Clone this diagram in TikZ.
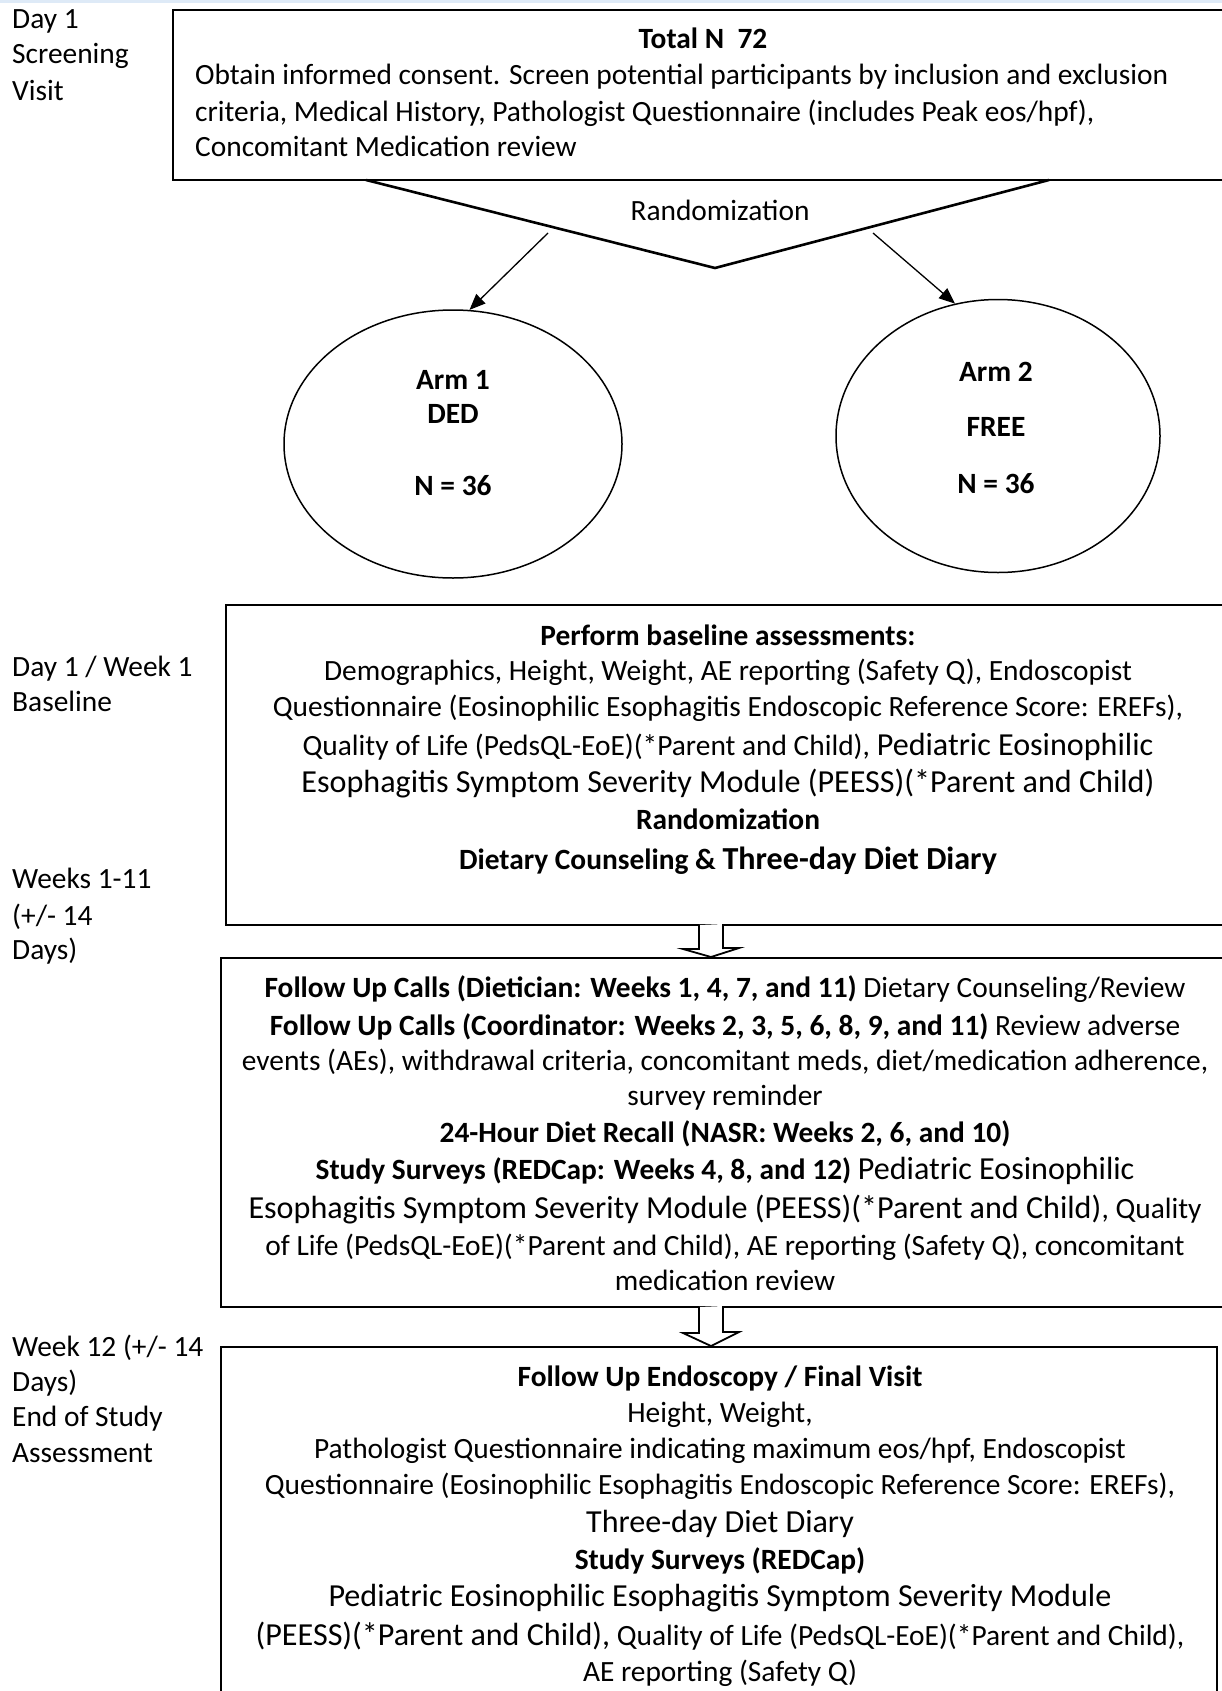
\documentclass[tikz,border=0pt]{standalone}
\usepackage{fontspec}
\setmainfont{Carlito}
\usetikzlibrary{shapes.geometric,arrows.meta}
\newcommand{\nsz}{\fontsize{29.4}{36}\selectfont}
\newcommand{\lsz}{\fontsize{32.1}{39}\selectfont}
\definecolor{topband}{RGB}{222,234,247}
\tikzset{
  boxst/.style={draw, line width=2pt, fill=white, rectangle, inner sep=0pt},
  ellst/.style={draw, line width=1.5pt, ellipse, inner sep=0pt},
  ln/.style={inner sep=0pt, anchor=base, font=\nsz},
  lnl/.style={inner sep=0pt, anchor=base west, font=\nsz},
  thinarr/.style={line width=1.3pt, -{Triangle[length=16pt,width=13pt]}},
  hollow/.style={draw, line width=1.8pt, fill=white, line join=miter},
}
\begin{document}
\begin{tikzpicture}[x=1pt,y=-1pt]
\useasboundingbox (0,0) rectangle (1222,1691);
\clip (0,0) rectangle (1222,1691);
\fill[white] (0,0) rectangle (1222,1691);
\fill[topband] (0,0) rectangle (1222,3);
% boxes
\node[boxst, minimum width=1067pt, minimum height=170pt] (b1) at (706.5,95) {};
\node[boxst, minimum width=1014pt, minimum height=320pt] (b2) at (733,765) {};
\node[boxst, minimum width=1019pt, minimum height=349pt] (b3) at (730.5,1132.5) {};
\node[boxst, minimum width=996pt, minimum height=373pt] (b4) at (719,1533.5) {};
% randomization wedge
\draw[line width=2.6pt, line join=miter] (366,180) -- (715,268) -- (1049,180);
\node[ln] (rand) at (720,220) {Randomization};
% ellipses
\node[ellst, minimum width=338pt, minimum height=268pt] (e1) at (453,444) {};
\node[ellst, minimum width=324pt, minimum height=273pt] (e2) at (998,436) {};
\coordinate (a1s) at (548,233);
\coordinate (a2s) at (873,233);
\draw[thinarr] (a1s) -- (e1.83);
\draw[thinarr] (a2s) -- (e2.108);
\node[ln, font=\nsz\bfseries] (e1a) at (453,389) {Arm 1};
\node[ln, font=\nsz\bfseries] (e1b) at (453,423) {DED};
\node[ln, font=\nsz\bfseries] (e1c) at (453,495) {N = 36};
\node[ln, font=\nsz\bfseries] (e2a) at (996,381) {Arm 2};
\node[ln, font=\nsz\bfseries] (e2b) at (996,436) {FREE};
\node[ln, font=\nsz\bfseries] (e2c) at (996,493) {N = 36};
% hollow arrows
\coordinate (h1) at (711,925);
\coordinate (h2) at (711,1307);
\draw[hollow] (h1) ++(-12,0) -- ++(0,24) -- ++(-16,0) -- (b3.north -| h1) -- ++(28,-9) -- ++(-16,0) -- ++(0,-24);
\draw[hollow] (h2) ++(-12,0) -- ++(0,26) -- ++(-16,0) -- (b4.north -| h2) -- ++(28,-14) -- ++(-16,0) -- ++(0,-26);
% left labels
\node[lnl] (l1a) at (12,29) {Day 1};
\node[lnl] (l1b) at (12,64) {Screening};
\node[lnl] (l1c) at (12,101) {Visit};
\node[lnl] (l2a) at (12,676) {Day 1 / Week 1};
\node[lnl] (l2b) at (12,711) {Baseline};
\node[lnl] (l3a) at (12,888) {Weeks 1-11};
\node[lnl] (l3b) at (12,925) {(+/- 14};
\node[lnl] (l3c) at (12,959) {Days)};
\node[lnl] (l4a) at (12,1356) {Week 12 (+/- 14};
\node[lnl] (l4b) at (12,1391) {Days)};
\node[lnl] (l4c) at (12,1426) {End of Study};
\node[lnl] (l4d) at (12,1462) {Assessment};
% box 1 text
\node[ln, font=\nsz\bfseries] (t1a) at (703,49) {Total N\ \ 72};
\node[lnl] (t1b) at (195,85) {Obtain informed consent. Screen potential participants by inclusion and exclusion};
\node[lnl] (t1c) at (195,122) {criteria, Medical History, Pathologist Questionnaire (includes Peak eos/hpf),};
\node[lnl] (t1d) at (195,156) {Concomitant Medication review};
% box 2 text
\node[ln, font=\nsz\bfseries] (t2a) at (728,645) {Perform baseline assessments:};
\node[ln] (t2b) at (728,680) {Demographics, Height, Weight, AE reporting (Safety Q), Endoscopist};
\node[ln] (t2c) at (728,716) {Questionnaire (Eosinophilic Esophagitis Endoscopic Reference Score: EREFs),};
\node[ln] (t2d) at (728,755) {Quality of Life (PedsQL-EoE)(*Parent and Child), {\lsz Pediatric Eosinophilic}};
\node[ln, font=\lsz] (t2e) at (728,792) {Esophagitis Symptom Severity Module (PEESS)(*Parent and Child)};
\node[ln, font=\nsz\bfseries] (t2f) at (728,829) {Randomization};
\node[ln, font=\nsz\bfseries] (t2g) at (728,869) {Dietary Counseling \& {\lsz Three-day Diet Diary}};
% box 3 text
\node[ln] (t3a) at (725,997) {\textbf{Follow Up Calls (Dietician: Weeks 1, 4, 7, and 11)} Dietary Counseling/Review};
\node[ln] (t3b) at (725,1035) {\textbf{Follow Up Calls (Coordinator: Weeks 2, 3, 5, 6, 8, 9, and 11)} Review adverse};
\node[ln] (t3c) at (725,1070) {events (AEs), withdrawal criteria, concomitant meds, diet/medication adherence,};
\node[ln] (t3d) at (725,1105) {survey reminder};
\node[ln, font=\nsz\bfseries] (t3e) at (725,1142) {24-Hour Diet Recall (NASR: Weeks 2, 6, and 10)};
\node[ln] (t3f) at (725,1179) {\textbf{Study Surveys (REDCap: Weeks 4, 8, and 12)} {\lsz Pediatric Eosinophilic}};
\node[ln] (t3g) at (725,1218) {{\lsz Esophagitis Symptom Severity Module (PEESS)(*Parent and Child)}, Quality};
\node[ln] (t3h) at (725,1255) {of Life (PedsQL-EoE)(*Parent and Child), AE reporting (Safety Q), concomitant};
\node[ln] (t3i) at (725,1290) {medication review};
% box 4 text
\node[ln, font=\nsz\bfseries] (t4a) at (720,1386) {Follow Up Endoscopy / Final Visit};
\node[ln] (t4b) at (720,1422) {Height, Weight,};
\node[ln] (t4c) at (720,1458) {Pathologist Questionnaire indicating maximum eos/hpf, Endoscopist};
\node[ln] (t4d) at (720,1494) {Questionnaire (Eosinophilic Esophagitis Endoscopic Reference Score: EREFs),};
\node[ln, font=\lsz] (t4e) at (720,1532) {Three-day Diet Diary};
\node[ln, font=\nsz\bfseries] (t4f) at (720,1569) {Study Surveys (REDCap)};
\node[ln, font=\lsz] (t4g) at (720,1606) {Pediatric Eosinophilic Esophagitis Symptom Severity Module};
\node[ln] (t4h) at (720,1645) {{\lsz (PEESS)(*Parent and Child),} Quality of Life (PedsQL-EoE)(*Parent and Child),};
\node[ln] (t4i) at (720,1681) {AE reporting (Safety Q)};
\end{tikzpicture}
\end{document}
